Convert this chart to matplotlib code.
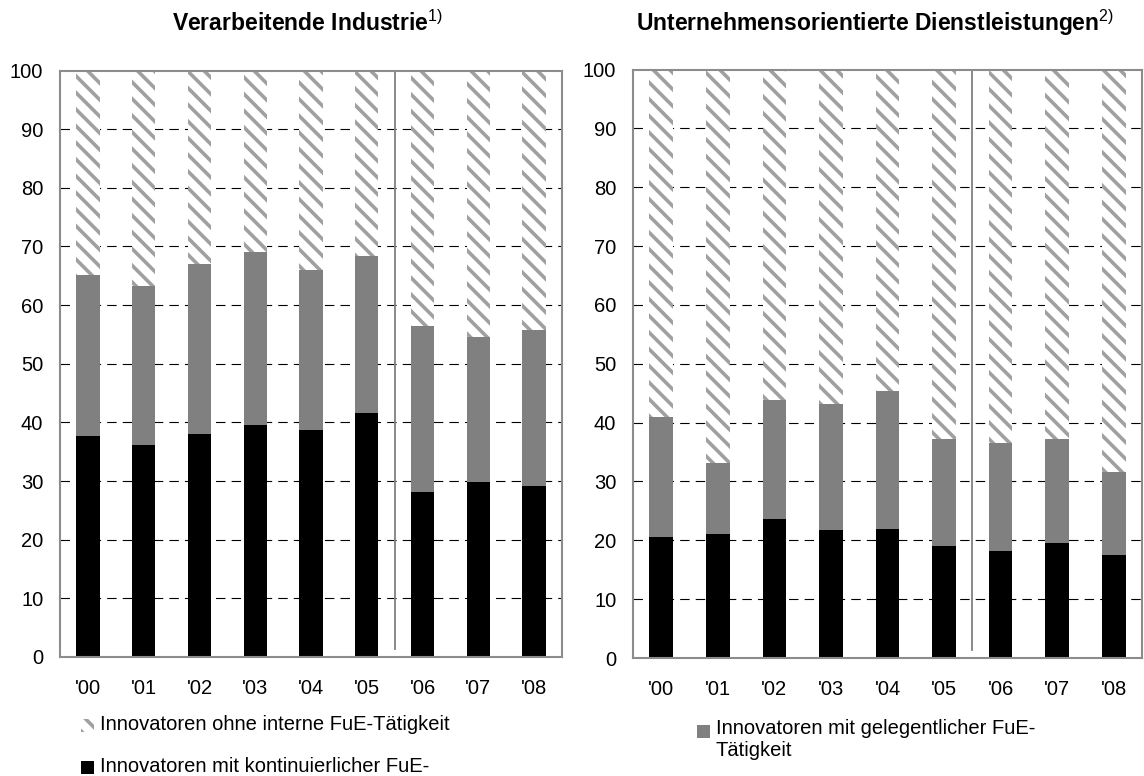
import matplotlib
matplotlib.use("Agg")
import matplotlib.pyplot as plt
from matplotlib.patches import Rectangle
import numpy as np

plt.rcParams['font.family'] = ['Liberation Sans', 'DejaVu Sans']
plt.rcParams['mathtext.fontset'] = 'custom'
plt.rcParams['mathtext.rm'] = 'Liberation Sans'
plt.rcParams['hatch.linewidth'] = 2.6
plt.rcParams['hatch.color'] = '#a0a0a0'

years = ["'00", "'01", "'02", "'03", "'04", "'05", "'06", "'07", "'08"]

# Verarbeitende Industrie
ind_kont = [37.6, 36.1, 38.0, 39.5, 38.7, 41.6, 28.1, 29.8, 29.1]
ind_total_fue = [65.2, 63.3, 67.0, 69.0, 66.0, 68.4, 56.5, 54.6, 55.8]
# Unternehmensorientierte Dienstleistungen
dl_kont = [20.6, 21.1, 23.6, 21.8, 21.9, 19.0, 18.2, 19.5, 17.5]
dl_total_fue = [40.9, 33.2, 43.8, 43.1, 45.3, 37.2, 36.5, 37.2, 31.6]

titles = ["Verarbeitende Industrie", "Unternehmensorientierte Dienstleistungen"]
title_notes = ["1)", "2)"]
lbl_ohne = "Innovatoren ohne interne FuE-Tätigkeit"
lbl_kont = "Innovatoren mit kontinuierlicher FuE-"
lbl_gel = "Innovatoren mit gelegentlicher FuE-\nTätigkeit"

W, H = 1144, 776
fig = plt.figure(figsize=(W / 100, H / 100), dpi=100)

def fx(px):
    return px / W

def fy(py):
    return 1 - py / H

ax1 = fig.add_axes([fx(60), fy(657), fx(562) - fx(60), fy(70.5) - fy(657)])
ax2 = fig.add_axes([fx(633), fy(658), fx(1142) - fx(633), fy(69.5) - fy(658)])

hatch_col = '#a0a0a0'
hatch = '\\\\'
for ax, kont, tot in [(ax1, ind_kont, ind_total_fue), (ax2, dl_kont, dl_total_fue)]:
    x = np.arange(len(years))
    kont = np.array(kont)
    tot = np.array(tot)
    gel = tot - kont
    ohne = 100 - tot
    bw = 0.42
    ax.bar(x, kont, width=bw, color='black', zorder=3)
    ax.bar(x, gel, width=bw, bottom=kont, color='#808080', zorder=3)
    ax.bar(x, ohne, width=bw, bottom=tot, color='white', edgecolor=hatch_col,
           linewidth=0, hatch=hatch, zorder=3)
    ax.set_xlim(-0.5, len(years) - 0.5)
    ax.set_ylim(0, 100)
    ax.set_yticks(np.arange(0, 101, 10))
    ax.set_xticks(x)
    ax.set_xticklabels(years)
    ax.tick_params(length=0, labelsize=14.5, pad=12)
    ax.tick_params(axis='x', pad=16)
    for g in range(10, 100, 10):
        ax.axhline(g, color='black', lw=0.8, ls=(0, (8.5, 5.5)), zorder=1)
    ax.plot([5.5, 5.5], [1.3, 100], color='#808080', lw=1.3, zorder=2)
    for s in ax.spines.values():
        s.set_color('#8c8c8c')
        s.set_linewidth(1.5)
        s.set_zorder(4)

# Titles
fig.text(fx(308), fy(31), titles[0] + r"$^{\mathrm{" + title_notes[0] + r"}}$",
         ha='center', va='baseline', fontsize=16.5, fontweight='bold')
fig.text(fx(875), fy(31), titles[1] + r"$^{\mathrm{" + title_notes[1] + r"}}$",
         ha='center', va='baseline', fontsize=16.5, fontweight='bold')

# Legends (manual)
def legend_entry(px, py, fc, hatch=None, size=13):
    r = Rectangle((fx(px), fy(py + size / 2)), size / W, size / H,
                  transform=fig.transFigure, facecolor=fc,
                  edgecolor=hatch_col if hatch else 'none', lw=0, hatch=hatch)
    fig.patches.append(r)
    return r

legend_entry(81, 725, 'white', hatch=hatch)
fig.text(fx(100), fy(725), lbl_ohne, ha='left', va='center', fontsize=14.5)
legend_entry(81, 767, 'black')
fig.text(fx(100), fy(767), lbl_kont, ha='left', va='center', fontsize=14.5)
legend_entry(697, 731, '#808080')
fig.text(fx(716), fy(719), lbl_gel, ha='left', va='top', fontsize=14.5,
         linespacing=1.2)

fig.savefig("out.png", dpi=100)
